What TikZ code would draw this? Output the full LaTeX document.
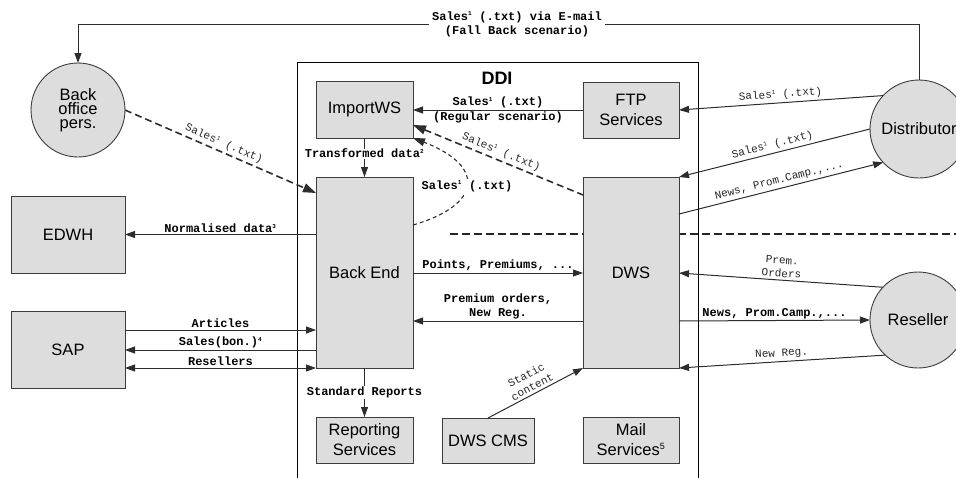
\documentclass[tikz,border=0pt]{standalone}
\usepackage{fontspec}
\setmainfont{Liberation Sans}
\newfontfamily\lblfont{Liberation Mono}
\usetikzlibrary{arrows.meta}
\definecolor{boxfill}{RGB}{221,221,221}
\definecolor{boxline}{RGB}{60,60,60}
\definecolor{lineclr}{RGB}{45,45,45}
\newcommand{\supn}[1]{\textsuperscript{\fontsize{6}{6}\selectfont #1}}
\begin{document}
\begin{tikzpicture}[x=1pt,y=-1pt,
  >={Triangle[length=10pt,width=7pt]},
  box/.style={draw=boxline, fill=boxfill, line width=0.9pt, align=center, inner sep=2pt, outer sep=0pt,
    font=\fontsize{16.5}{20}\selectfont},
  person/.style={circle, draw=boxline, fill=boxfill, line width=0.9pt, align=center, inner sep=0pt, outer sep=0pt,
    font=\fontsize{16.5}{14}\selectfont},
  flow/.style={draw=lineclr, line width=1pt},
  dflow/.style={draw=lineclr, line width=1.6pt, dash pattern=on 7pt off 4pt,
    >={Triangle[length=13pt,width=9pt]}},
  cflow/.style={draw=lineclr, line width=1.1pt, dash pattern=on 4pt off 3pt,
    >={Triangle[length=12pt,width=8pt]}},
  lbl/.style={font=\lblfont\bfseries\fontsize{12}{14}\selectfont, align=center, inner sep=1.5pt, text=black},
  slbl/.style={font=\lblfont\fontsize{11}{13}\selectfont, align=center, inner sep=2.5pt, sloped, text=black!85},
]
\useasboundingbox (0,0) rectangle (956,477);
\clip (0,0) rectangle (956,477);

% DDI frame and separator
\draw[line width=0.9pt, black] (297,478) -- (297,62) -- (698,62) -- (698,478);
\node[font=\bfseries\fontsize{18}{20}\selectfont] (ddi) at (497,78) {DDI};
\draw[line width=1.8pt, black!85, dash pattern=on 8pt off 4pt] (450,234) -- (956,234);

% boxes
\node[box, minimum width=97pt, minimum height=57pt] (imp) at (364.5,109.5) {ImportWS};
\node[box, minimum width=96pt, minimum height=56pt] (ftp) at (631,110) {FTP\\Services};
\node[box, minimum width=97pt, minimum height=191pt] (be) at (364.5,272.5) {Back End};
\node[box, minimum width=96pt, minimum height=191pt] (dws) at (631,272.5) {DWS};
\node[box, minimum width=114pt, minimum height=77pt] (edwh) at (68,234.5) {EDWH};
\node[box, minimum width=114pt, minimum height=77pt] (sap) at (68,349.5) {SAP};
\node[box, minimum width=97pt, minimum height=46pt] (rep) at (364.5,440) {Reporting\\Services};
\node[box, minimum width=92pt, minimum height=45pt] (cms) at (488,440.5) {DWS CMS};
\node[box, minimum width=96pt, minimum height=46pt] (mail) at (631,440) {Mail\\Services\textsuperscript{\fontsize{9}{9}\selectfont 5}};

% persons
\node[person, minimum size=94pt] (bo) at (78,110) {Back\\office\\pers.};
\node[person, minimum size=98pt] (dist) at (919,129) {Distributor};
\node[person, minimum size=96pt] (res) at (918,320) {Reseller};

% fall back scenario
\draw[flow,->] (dist.north) -- (dist.north |- 0,24) -| (bo.north);
\node[lbl, fill=white, inner sep=3pt] (fb) at (517,24) {Sales\supn{1} (.txt) via E-mail\\(Fall Back scenario)};

% FTP -> ImportWS
\draw[flow,<-] (imp.east |- ftp.west) -- (ftp.west)
  node[lbl, midway, above] {Sales\supn{1} (.txt)}
  node[lbl, midway, below] {(Regular scenario)};

% Distributor flows
\draw[flow,<-] (ftp.east) -- (dist.137) node[slbl, midway, above] {Sales\supn{1} (.txt)};
\draw[flow,<-] (dws.north east) -- (dist.180) node[slbl, midway, above] {Sales\supn{1} (.txt)};
\draw[flow,->] (dws.east |- 0,214) -- (dist.223) node[slbl, midway, above] {News, Prom.Camp.,...};

% Reseller flows
\draw[flow,<-] (dws.east |- 0,273) -- (res.137) node[slbl, midway, above] {Prem.\\Orders};
\draw[flow,->] (dws.east |- 0,321) -- (res.west) node[lbl, midway, above] {News, Prom.Camp.,...};
\draw[flow,<-] (dws.south east) -- (res.227) node[slbl, midway, above] {New Reg.};

% Back End <-> DWS
\draw[flow,->] (be.east |- 0,273) -- (dws.west |- 0,273) node[lbl, midway, above] {Points, Premiums, ...};
\draw[flow,<-] (be.east |- 0,321) -- (dws.west |- 0,321) node[lbl, midway, above] {Premium orders,\\New Reg.};

% left side
\draw[flow,<-] (edwh.east) -- (be.west |- edwh.east) node[lbl, midway, above] {Normalised data\supn{3}};
\draw[flow,->] (sap.east |- 0,330) -- (be.west |- 0,330) node[lbl, midway, above] {Articles};
\draw[flow,<-] (sap.east |- 0,350) -- (be.west |- 0,350) node[lbl, midway, above] {Sales(bon.)\supn{4}};
\draw[flow,<->] (sap.east |- 0,368) -- (be.south west) node[lbl, midway, above] {Resellers};

% vertical
\draw[flow,->] (imp.south) -- (be.north) node[lbl, pos=0.4, fill=white, inner sep=0.5pt] {Transformed data\supn{2}};
\draw[flow,->] (be.south) -- (rep.north) node[lbl, pos=0.5, fill=white, inner sep=0.5pt] {Standard Reports};

% static content
\draw[flow,->] (cms.north) -- (dws.south west) node[slbl, midway, above] {Static\\content};

% dashed flows
\draw[dflow,->] (bo.east) -- (be.west |- 0,193) node[slbl, midway, above] {Sales\supn{1} (.txt)};
\draw[dflow,<-] (imp.east |- 0,125) -- (dws.west |- 0,195) node[slbl, midway, above] {Sales\supn{1} (.txt)};
\draw[cflow,->] (be.east |- 0,225) .. controls (482,205) and (486,166) .. (imp.south east);
\node[lbl, fill=white, inner sep=1pt] (curvelbl) at (467,186) {Sales\supn{1} (.txt)};
\end{tikzpicture}
\end{document}
